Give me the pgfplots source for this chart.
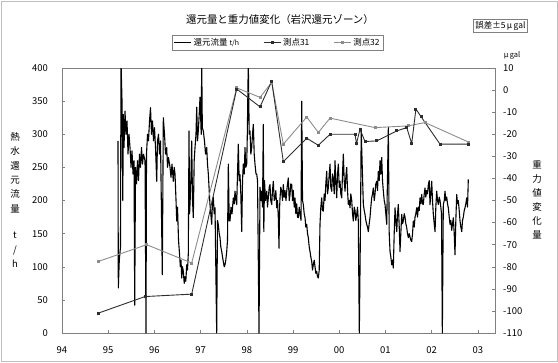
\documentclass[border=0pt]{standalone}
\usepackage{fontspec}
\setmainfont{Noto Sans CJK JP}
\usepackage{pgfplots}
\pgfplotsset{compat=1.18}
\definecolor{axgray}{RGB}{128,128,128}
\definecolor{sOne}{RGB}{45,45,45}
\definecolor{sTwo}{RGB}{140,140,140}
\begin{document}
\begin{tikzpicture}[x=1bp,y=1bp]
\path[use as bounding box] (-62,-29) rectangle (496,333);
\draw[gray!50] (-61,-28) rectangle (495,332);
\begin{axis}[
  at={(0,0)}, anchor=south west, scale only axis,
  width=433bp, height=265bp,
  xmin=1994, xmax=2003.372, ymin=0, ymax=400,
  xtick={1994,1995,...,2003},
  xticklabels={94,95,96,97,98,99,00,01,02,03},
  ytick={0,50,...,400},
  xtick pos=bottom, ytick pos=left,
  tick align=inside, major tick length=3bp,
  axis line style={axgray, line width=0.6bp},
  every tick/.style={axgray, line width=0.5bp},
  tick label style={font=\fontsize{9.5}{11}\selectfont},
  yticklabel style={inner sep=0pt, anchor=east, xshift=-14bp},
  xticklabel style={inner sep=0pt, anchor=north, yshift=-13bp},
  /pgf/number format/assume math mode=true,
  /pgf/number format/1000 sep={},
  legend style={at={(0.498,1.096)}, anchor=center, legend columns=3,
    draw=axgray, line width=0.5bp, font=\fontsize{8.5}{10}\selectfont,
    inner sep=1.2bp, /tikz/every even column/.append style={column sep=22bp}},
  legend cell align=left,
]
\addplot[black, line width=1.1bp, line join=round] coordinates {
(1995.212,290) (1995.219,68) (1995.240,110) (1995.266,130) (1995.277,410) (1995.299,350) (1995.316,200) (1995.327,330)
(1995.342,280) (1995.364,335) (1995.385,300) (1995.407,320) (1995.429,270) (1995.450,300) (1995.472,280) (1995.494,250)
(1995.515,275) (1995.537,240) (1995.558,260) (1995.574,42) (1995.591,250) (1995.613,225) (1995.634,260) (1995.656,230)
(1995.677,270) (1995.699,250) (1995.721,280) (1995.742,255) (1995.764,270) (1995.797,260) (1995.818,0) (1995.829,270)
(1995.851,300) (1995.872,290) (1995.894,320) (1995.916,340) (1995.937,300) (1995.959,320) (1995.981,290) (1996.002,310)
(1996.024,280) (1996.050,229) (1996.067,290) (1996.089,300) (1996.110,270) (1996.132,290) (1996.171,88) (1996.193,325)
(1996.219,300) (1996.240,270) (1996.266,280) (1996.284,250) (1996.305,265) (1996.338,250) (1996.359,235) (1996.381,255)
(1996.409,229) (1996.429,250) (1996.446,240) (1996.468,200) (1996.483,169) (1996.500,190) (1996.522,140) (1996.543,120)
(1996.561,100) (1996.576,110) (1996.591,83) (1996.608,100) (1996.626,93) (1996.645,75) (1996.662,85) (1996.680,78)
(1996.699,103) (1996.716,95) (1996.734,120) (1996.749,305) (1996.762,180) (1996.777,205) (1996.792,240) (1996.807,290)
(1996.825,200) (1996.842,174) (1996.861,260) (1996.879,280) (1996.900,300) (1996.916,341) (1996.933,290) (1996.950,305)
(1996.970,330) (1996.987,356) (1997.013,300) (1997.024,410) (1997.037,310) (1997.058,305) (1997.084,290) (1997.106,270)
(1997.132,280) (1997.149,255) (1997.167,240) (1997.186,215) (1997.203,194) (1997.221,180) (1997.240,164) (1997.258,200)
(1997.275,205) (1997.294,180) (1997.312,189) (1997.348,0) (1997.366,170) (1997.383,164) (1997.403,150) (1997.420,144)
(1997.437,130) (1997.457,123) (1997.474,115) (1997.491,108) (1997.511,100) (1997.528,103) (1997.545,110) (1997.565,123)
(1997.582,140) (1997.600,255) (1997.619,170) (1997.636,169) (1997.658,190) (1997.680,180) (1997.708,204) (1997.727,195)
(1997.745,214) (1997.766,200) (1997.781,194) (1997.816,285) (1997.835,230) (1997.853,239) (1997.870,210) (1997.890,153)
(1997.907,230) (1997.924,255) (1997.944,240) (1997.961,280) (1997.978,250) (1997.998,255) (1998.011,300) (1998.032,410)
(1998.052,300) (1998.069,305) (1998.087,270) (1998.106,280) (1998.123,300) (1998.141,315) (1998.160,270) (1998.177,255)
(1998.199,240) (1998.214,240) (1998.232,230) (1998.264,0) (1998.286,220) (1998.307,200) (1998.323,214) (1998.340,190)
(1998.357,315) (1998.368,153) (1998.383,230) (1998.405,200) (1998.431,214) (1998.448,190) (1998.465,204) (1998.485,220)
(1998.502,224) (1998.519,200) (1998.539,194) (1998.556,215) (1998.574,229) (1998.593,200) (1998.610,204) (1998.628,215)
(1998.647,189) (1998.665,200) (1998.682,174) (1998.697,128) (1998.710,190) (1998.719,204) (1998.736,220) (1998.755,214)
(1998.773,200) (1998.790,224) (1998.810,205) (1998.827,215) (1998.848,200) (1998.864,214) (1998.881,225) (1998.898,234)
(1998.918,200) (1998.935,209) (1998.952,225) (1998.972,224) (1998.989,200) (1999.006,215) (1999.026,190) (1999.043,204)
(1999.061,180) (1999.080,195) (1999.097,175) (1999.115,174) (1999.134,190) (1999.152,180) (1999.173,170) (1999.188,350)
(1999.206,200) (1999.223,194) (1999.242,180) (1999.260,174) (1999.277,160) (1999.297,164) (1999.314,150) (1999.331,144)
(1999.351,130) (1999.368,123) (1999.385,115) (1999.405,108) (1999.422,95) (1999.439,103) (1999.459,110) (1999.476,100)
(1999.494,90) (1999.513,93) (1999.530,85) (1999.548,83) (1999.567,95) (1999.584,164) (1999.602,190) (1999.621,204)
(1999.639,185) (1999.656,184) (1999.675,210) (1999.693,200) (1999.710,225) (1999.729,244) (1999.747,210) (1999.764,219)
(1999.784,240) (1999.801,255) (1999.818,220) (1999.838,214) (1999.855,240) (1999.872,234) (1999.892,210) (1999.909,260)
(1999.926,230) (1999.946,204) (1999.963,240) (1999.981,255) (2000.000,220) (2000.017,229) (2000.035,210) (2000.054,204)
(2000.071,240) (2000.089,270) (2000.108,230) (2000.126,214) (2000.143,235) (2000.162,250) (2000.180,215) (2000.197,194)
(2000.216,200) (2000.234,189) (2000.251,210) (2000.271,200) (2000.288,180) (2000.305,169) (2000.325,190) (2000.342,185)
(2000.359,170) (2000.379,179) (2000.396,190) (2000.413,169) (2000.435,0) (2000.457,140) (2000.476,305) (2000.522,194)
(2000.541,185) (2000.558,179) (2000.576,170) (2000.595,164) (2000.613,160) (2000.630,153) (2000.649,165) (2000.667,175)
(2000.684,190) (2000.703,204) (2000.721,210) (2000.738,219) (2000.758,200) (2000.775,210) (2000.792,225) (2000.812,229)
(2000.829,215) (2000.846,244) (2000.866,230) (2000.883,260) (2000.900,240) (2000.920,265) (2000.937,230) (2000.955,214)
(2000.974,200) (2000.991,194) (2001.009,180) (2001.028,164) (2001.063,310) (2001.082,150) (2001.100,123) (2001.117,115)
(2001.136,103) (2001.154,110) (2001.171,98) (2001.190,150) (2001.208,189) (2001.225,170) (2001.245,153) (2001.262,180)
(2001.279,194) (2001.299,160) (2001.316,123) (2001.333,150) (2001.353,179) (2001.370,165) (2001.387,169) (2001.407,180)
(2001.424,175) (2001.442,165) (2001.461,159) (2001.478,150) (2001.496,144) (2001.515,150) (2001.532,145) (2001.550,140)
(2001.569,138) (2001.587,150) (2001.604,169) (2001.623,160) (2001.641,175) (2001.658,180) (2001.677,189) (2001.695,175)
(2001.712,190) (2001.732,185) (2001.749,204) (2001.766,195) (2001.786,209) (2001.803,195) (2001.820,194) (2001.840,210)
(2001.857,219) (2001.874,205) (2001.894,215) (2001.911,210) (2001.929,224) (2001.948,230) (2001.965,194) (2001.983,210)
(2002.002,229) (2002.019,200) (2002.037,179) (2002.056,165) (2002.074,153) (2002.091,190) (2002.110,214) (2002.128,200)
(2002.145,194) (2002.165,205) (2002.182,200) (2002.199,190) (2002.214,180) (2002.232,0) (2002.253,194) (2002.273,200)
(2002.290,214) (2002.307,200) (2002.327,205) (2002.344,195) (2002.361,189) (2002.381,175) (2002.398,164) (2002.416,170)
(2002.435,155) (2002.452,165) (2002.470,174) (2002.489,150) (2002.506,118) (2002.524,170) (2002.543,209) (2002.561,195)
(2002.578,200) (2002.597,185) (2002.615,169) (2002.632,160) (2002.652,153) (2002.669,170) (2002.686,175) (2002.706,185)
(2002.723,189) (2002.740,195) (2002.760,204) (2002.777,190) (2002.794,232)
};
\addlegendentry{還元流量 {\fontsize{7}{8}\selectfont t/h}}
\addlegendimage{sOne, line width=0.9bp, mark=square*, mark size=1bp}
\addlegendentry{測点31}
\addlegendimage{sTwo, line width=0.9bp, mark=square*, mark size=1bp}
\addlegendentry{測点32}
\end{axis}
\begin{axis}[
  at={(0,0)}, anchor=south west, scale only axis,
  width=433bp, height=265bp,
  xmin=1994, xmax=2003.372, ymin=-110, ymax=10,
  axis x line=none, axis y line*=right,
  ytick={-110,-100,...,10},
  tick align=inside, major tick length=3bp,
  axis line style={axgray, line width=0.6bp},
  every tick/.style={axgray, line width=0.5bp},
  tick label style={font=\fontsize{9.5}{11}\selectfont},
  yticklabel style={inner sep=0pt, anchor=west, xshift=8bp},
  /pgf/number format/assume math mode=true,
]
\addplot[sTwo, line width=0.9bp, mark=square*, mark size=1bp] coordinates {
(1994.786,-77.6) (1995.833,-70) (1996.807,-78.3) (1997.781,1) (1998.286,-3.3) (1998.539,3.5)
(1998.790,-24.5) (1999.297,-12.2) (1999.548,-19.2) (1999.801,-12.7) (2000.775,-17) (2001.496,-16.2)
(2001.857,-14.7) (2002.794,-23.5)
};
\addplot[sOne, line width=0.9bp, mark=square*, mark size=1bp] coordinates {
(1994.786,-101) (1995.797,-93.5) (1996.807,-92.4) (1997.781,0.5) (1998.286,-7.6) (1998.539,4)
(1998.790,-32.4) (1999.297,-21.8) (1999.548,-25) (1999.801,-20) (2000.342,-20) (2000.374,-24.2)
(2000.450,-17.7) (2000.558,-23.3) (2000.812,-23) (2001.245,-18.5) (2001.461,-17) (2001.569,-24.2)
(2001.660,-8.6) (2001.770,-12) (2002.182,-24.5) (2002.794,-24.5)
};
\end{axis}
\node[font=\fontsize{10.5}{12}\selectfont] at (218,313) {還元量と重力値変化（岩沢還元ゾーン）};
\node[draw=axgray, line width=0.5bp, inner sep=1.8bp, font=\fontsize{8.5}{10}\selectfont] at (438.5,307) {誤差±5\,{\itshape μ}\,gal};
\node[font=\fontsize{7.5}{9}\selectfont] at (450,278) {{\itshape μ}\,gal};
\node[align=center, font=\fontsize{9.5}{14.5}\selectfont] at (-47,133) {熱\\水\\還\\元\\流\\量\\[12bp]t\\/\\h};
\node[align=center, font=\fontsize{9.5}{14}\selectfont] at (475,133) {重\\力\\値\\変\\化\\量};
\end{tikzpicture}
\end{document}
